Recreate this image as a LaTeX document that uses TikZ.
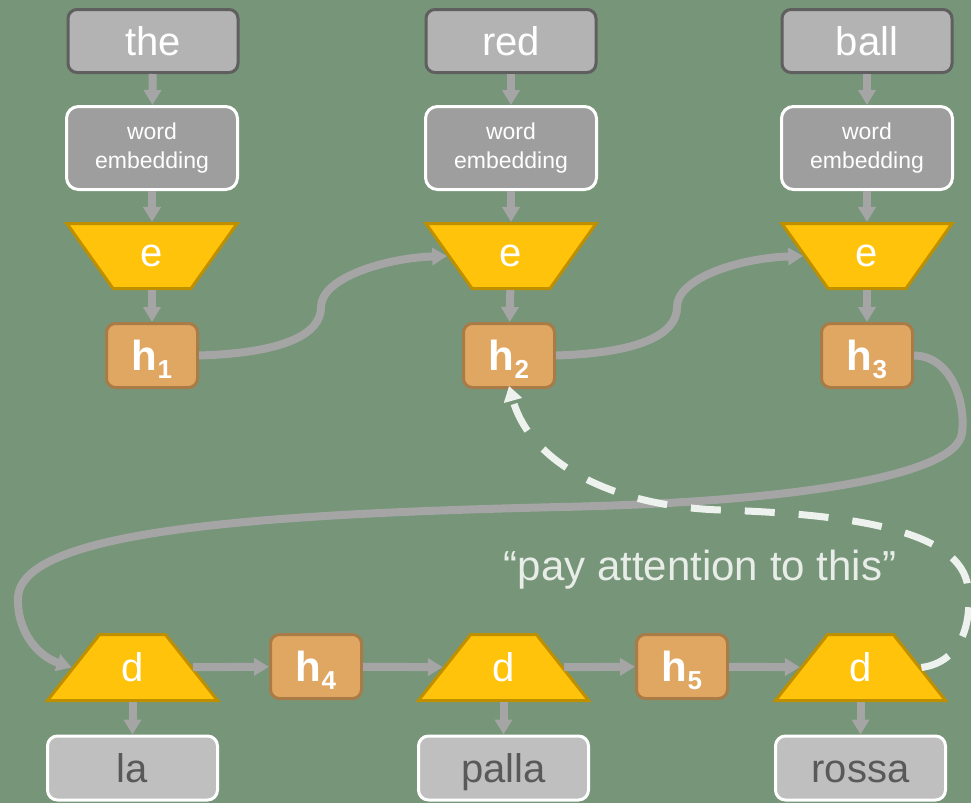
\documentclass[tikz,border=0pt]{standalone}
\usepackage{fontspec}
\setmainfont{Liberation Sans}
\usetikzlibrary{shapes.geometric,arrows.meta}
\definecolor{bg}{HTML}{769579}
\definecolor{topfill}{HTML}{B3B3B3}
\definecolor{topborder}{HTML}{5F5F5F}
\definecolor{embfill}{HTML}{9E9E9E}
\definecolor{trapfill}{HTML}{FFC30B}
\definecolor{trapborder}{HTML}{BE9000}
\definecolor{hfill}{HTML}{E0A762}
\definecolor{hborder}{HTML}{A87B47}
\definecolor{outfill}{HTML}{BFBFBF}
\definecolor{outtext}{HTML}{595959}
\definecolor{arrowgrey}{HTML}{A5A5A5}
\definecolor{dashwhite}{HTML}{EEF2EE}
\definecolor{notetext}{HTML}{E8EDE8}
\newcommand{\hsub}[1]{{\bfseries h\raisebox{-8pt}{\fontsize{26}{26}\selectfont\bfseries #1}}}
\begin{document}
\begin{tikzpicture}[x=1pt,y=-1pt,
  topbox/.style={draw=topborder, fill=topfill, line width=3pt, rounded corners=9pt,
    minimum width=170pt, minimum height=63pt, inner sep=0pt, text=white,
    text height=29pt, text depth=0pt, font=\fontsize{40}{40}\selectfont},
  embbox/.style={draw=white, fill=embfill, line width=3pt, rounded corners=12pt,
    minimum width=171pt, minimum height=83pt, inner sep=0pt, text=white, align=center,
    font=\fontsize{23}{29}\selectfont},
  encbox/.style={trapezium, trapezium stretches=true, shape border rotate=180,
    trapezium angle=59, minimum width=171pt, minimum height=65pt, inner sep=0pt,
    draw=trapborder, fill=trapfill, line width=3pt, text=white,
    font=\fontsize{40}{40}\selectfont},
  decbox/.style={trapezium, trapezium stretches=true,
    trapezium angle=59, minimum width=171pt, minimum height=66pt, inner sep=0pt,
    draw=trapborder, fill=trapfill, line width=3pt, text=white,
    font=\fontsize{40}{40}\selectfont},
  hbox/.style={draw=hborder, fill=hfill, line width=3pt, rounded corners=9pt,
    minimum width=91pt, minimum height=64pt, inner sep=0pt, text=white, text depth=0pt,
    font=\fontsize{42}{42}\selectfont},
  outbox/.style={draw=white, fill=outfill, line width=3pt, rounded corners=10pt,
    minimum width=170pt, minimum height=64pt, inner sep=0pt, text=outtext,
    text height=29pt, text depth=0pt, font=\fontsize{40}{40}\selectfont},
  arr/.style={draw=arrowgrey, line width=8pt, -{Triangle[length=15pt,width=17pt]}},
  attn/.style={draw=dashwhite, line width=7pt, dash pattern=on 30pt off 24pt,
    -{Triangle[length=15pt,width=18pt]}}
]
\fill[bg] (0,0) rectangle (971,803);
\useasboundingbox (0,0) rectangle (971,803);

% encoder column nodes
\node[topbox] (w1) at (153,41) {the};
\node[topbox] (w2) at (511,41) {red};
\node[topbox] (w3) at (867,41) {ball};
\node[embbox] (m1) at (152,148) {word\\embedding};
\node[embbox] (m2) at (511,148) {word\\embedding};
\node[embbox] (m3) at (867,148) {word\\embedding};
\node[encbox] (e1) at (152,256) {e};
\node[encbox] (e2) at (511,256) {e};
\node[encbox] (e3) at (867,256) {e};
\node[hbox] (h1) at (152,355.5) {\hsub{1}};
\node[hbox] (h2) at (509,355.5) {\hsub{2}};
\node[hbox] (h3) at (867,355.5) {\hsub{3}};

% decoder nodes
\node[decbox] (d1) at (132.5,667.5) {d};
\node[decbox] (d2) at (503.5,667.5) {d};
\node[decbox] (d3) at (860.5,667.5) {d};
\node[hbox] (h4) at (316,666.5) {\hsub{4}};
\node[hbox] (h5) at (682,666.5) {\hsub{5}};
\node[outbox] (o1) at (132.5,768) {la};
\node[outbox] (o2) at (503.5,768) {palla};
\node[outbox] (o3) at (860.5,768) {rossa};

\node[text=notetext, font=\fontsize{42}{42}\selectfont, inner sep=0pt] (note) at (700,570) {“pay attention to this”};

% vertical arrows
\foreach \a/\b in {w1/m1,w2/m2,w3/m3,m1/e1,m2/e2,m3/e3,e1/h1,e2/h2,e3/h3,d1/o1,d2/o2,d3/o3}
  \draw[arr] (\a) -- (\b);
% horizontal decoder arrows
\draw[arr] (d1) -- (h4);
\draw[arr] (h4) -- (d2);
\draw[arr] (d2) -- (h5);
\draw[arr] (h5) -- (d3);

% recurrent encoder arrows
\draw[arr] (h1.east) .. controls (282,353) and (321,335) .. (321,307)
  .. controls (321,278) and (385,258) .. (e2.west);
\draw[arr] (h2.east) .. controls (638,353) and (677,335) .. (677,307)
  .. controls (677,278) and (740,258) .. (e3.west);

% long connection h3 -> d1
\draw[arr] (h3.east) .. controls (950,356) and (966,400) .. (962,433)
  .. controls (957,475) and (800,502) .. (560,507)
  .. controls (260,514) and (20,530) .. (18,598)
  .. controls (17,632) and (38,656) .. (d1.west);

% attention dashed arrow
\draw[attn] (d3.east) .. controls (962,662) and (972,622) .. (968,588)
  .. controls (962,530) and (850,514) .. (720,510)
  .. controls (610,506) and (530,462) .. ([yshift=3pt]h2.south);
\end{tikzpicture}
\end{document}
